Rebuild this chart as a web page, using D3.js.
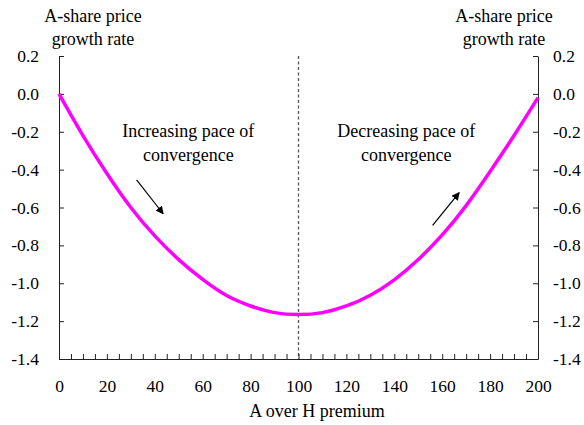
<!DOCTYPE html>
<html><head><meta charset="utf-8">
<script src="https://cdn.jsdelivr.net/npm/d3@7"></script>
<style>body{margin:0;background:#fff}svg text{font-family:"Liberation Serif","Times New Roman",serif !important;fill:#000}</style>
</head><body><svg id="c" width="584" height="425"></svg>
<script>
const premium = [0,10,20,30,40,50,60,70,80,90,100,110,120,130,140,150,160,170,180,190,200];
const growth  = [0.00,-0.22,-0.42,-0.60,-0.75,-0.875,-0.98,-1.065,-1.12,-1.155,-1.165,-1.155,-1.12,-1.063,-0.982,-0.875,-0.745,-0.59,-0.41,-0.22,-0.02];
const xTicks = [0,20,40,60,80,100,120,140,160,180,200];
const yTicks = [0.2,0.0,-0.2,-0.4,-0.6,-0.8,-1.0,-1.2,-1.4];
const yTitle = ["A-share price","growth rate"];
const xTitle = "A over H premium";
const notes = [
  {lines:["Increasing pace of","convergence"], x:54, y:-0.23},
  {lines:["Decreasing pace of","convergence"], x:145, y:-0.23}
];
const arrows = [
  {x1:32.4,y1:-0.454,x2:43.5,y2:-0.633},
  {x1:156,y1:-0.695,x2:167.1,y2:-0.522}
];
const divider = 100;

const svg = d3.select("#c");
const L=59, R=538, T=56, B=359;
const x = d3.scaleLinear().domain([0,200]).range([L,R]);
const y = d3.scaleLinear().domain([-1.4,0.2]).range([B,T]);
const serif = '"Liberation Serif","Times New Roman",serif';

svg.append("defs").append("marker").attr("id","ah").attr("viewBox","0 0 10 10")
  .attr("refX",9).attr("refY",5).attr("markerWidth",8).attr("markerHeight",8)
  .attr("markerUnits","userSpaceOnUse").attr("orient","auto")
  .append("path").attr("d","M0,0L10,5L0,10z").attr("fill","#000");

// dashed divider
svg.append("line").attr("x1",x(divider)).attr("x2",x(divider)).attr("y1",T).attr("y2",B)
  .attr("stroke","#555").attr("stroke-width",1.3).attr("stroke-dasharray","3,2.5");

// axes
const fs = 17.5;
const fmt = d => (Math.abs(d) < 1e-9 ? 0 : d).toFixed(1);
const bottom = d3.axisBottom(x).tickValues(d3.range(0,201,5)).tickSizeInner(-5).tickSizeOuter(0).tickFormat(d => xTicks.includes(d) ? String(d) : "");
const gx = svg.append("g").attr("transform",`translate(0,${B})`).call(bottom);
gx.selectAll("text").attr("dy",0).attr("y",33);

const left = d3.axisLeft(y).tickValues(yTicks).tickSizeInner(-5).tickSizeOuter(0).tickFormat(fmt);
const gl = svg.append("g").attr("transform",`translate(${L},0)`).call(left);
gl.selectAll("text").attr("x",-20);

const right = d3.axisRight(y).tickValues(yTicks).tickSizeInner(-5).tickSizeOuter(0).tickFormat(fmt);
const gr = svg.append("g").attr("transform",`translate(${R},0)`).call(right);
gr.selectAll("text").attr("x",15);

[gx,gl,gr].forEach(g=>g.attr("font-family",serif).attr("font-size",fs));
svg.selectAll(".tick text").style("font-family",serif).style("font-size",fs+"px");
svg.selectAll(".domain").attr("stroke","#222");
svg.selectAll(".tick line").attr("stroke","#222");

// curve
const line = d3.line().x((d,i)=>x(premium[i])).y(d=>y(d)).curve(d3.curveNatural);
svg.append("path").datum(growth).attr("d",line).attr("fill","none")
  .attr("stroke","#ff00ff").attr("stroke-width",3.5);

// titles
[93,504].forEach(cx=>{
  yTitle.forEach((t,i)=>svg.append("text").attr("x",cx).attr("y",22+i*23)
    .attr("text-anchor","middle").style("font-size","18px").text(t));
});
svg.append("text").attr("x",317).attr("y",417).attr("text-anchor","middle")
  .style("font-size","18px").text(xTitle);

// notes
notes.forEach(n=>{
  n.lines.forEach((t,i)=>svg.append("text").attr("x",x(n.x)).attr("y",y(n.y)+i*24)
    .attr("text-anchor","middle").style("font-size","18px").text(t));
});
arrows.forEach(a=>{
  svg.append("line").attr("x1",x(a.x1)).attr("y1",y(a.y1)).attr("x2",x(a.x2)).attr("y2",y(a.y2))
    .attr("stroke","#000").attr("stroke-width",1.2).attr("marker-end","url(#ah)");
});
</script></body></html>
